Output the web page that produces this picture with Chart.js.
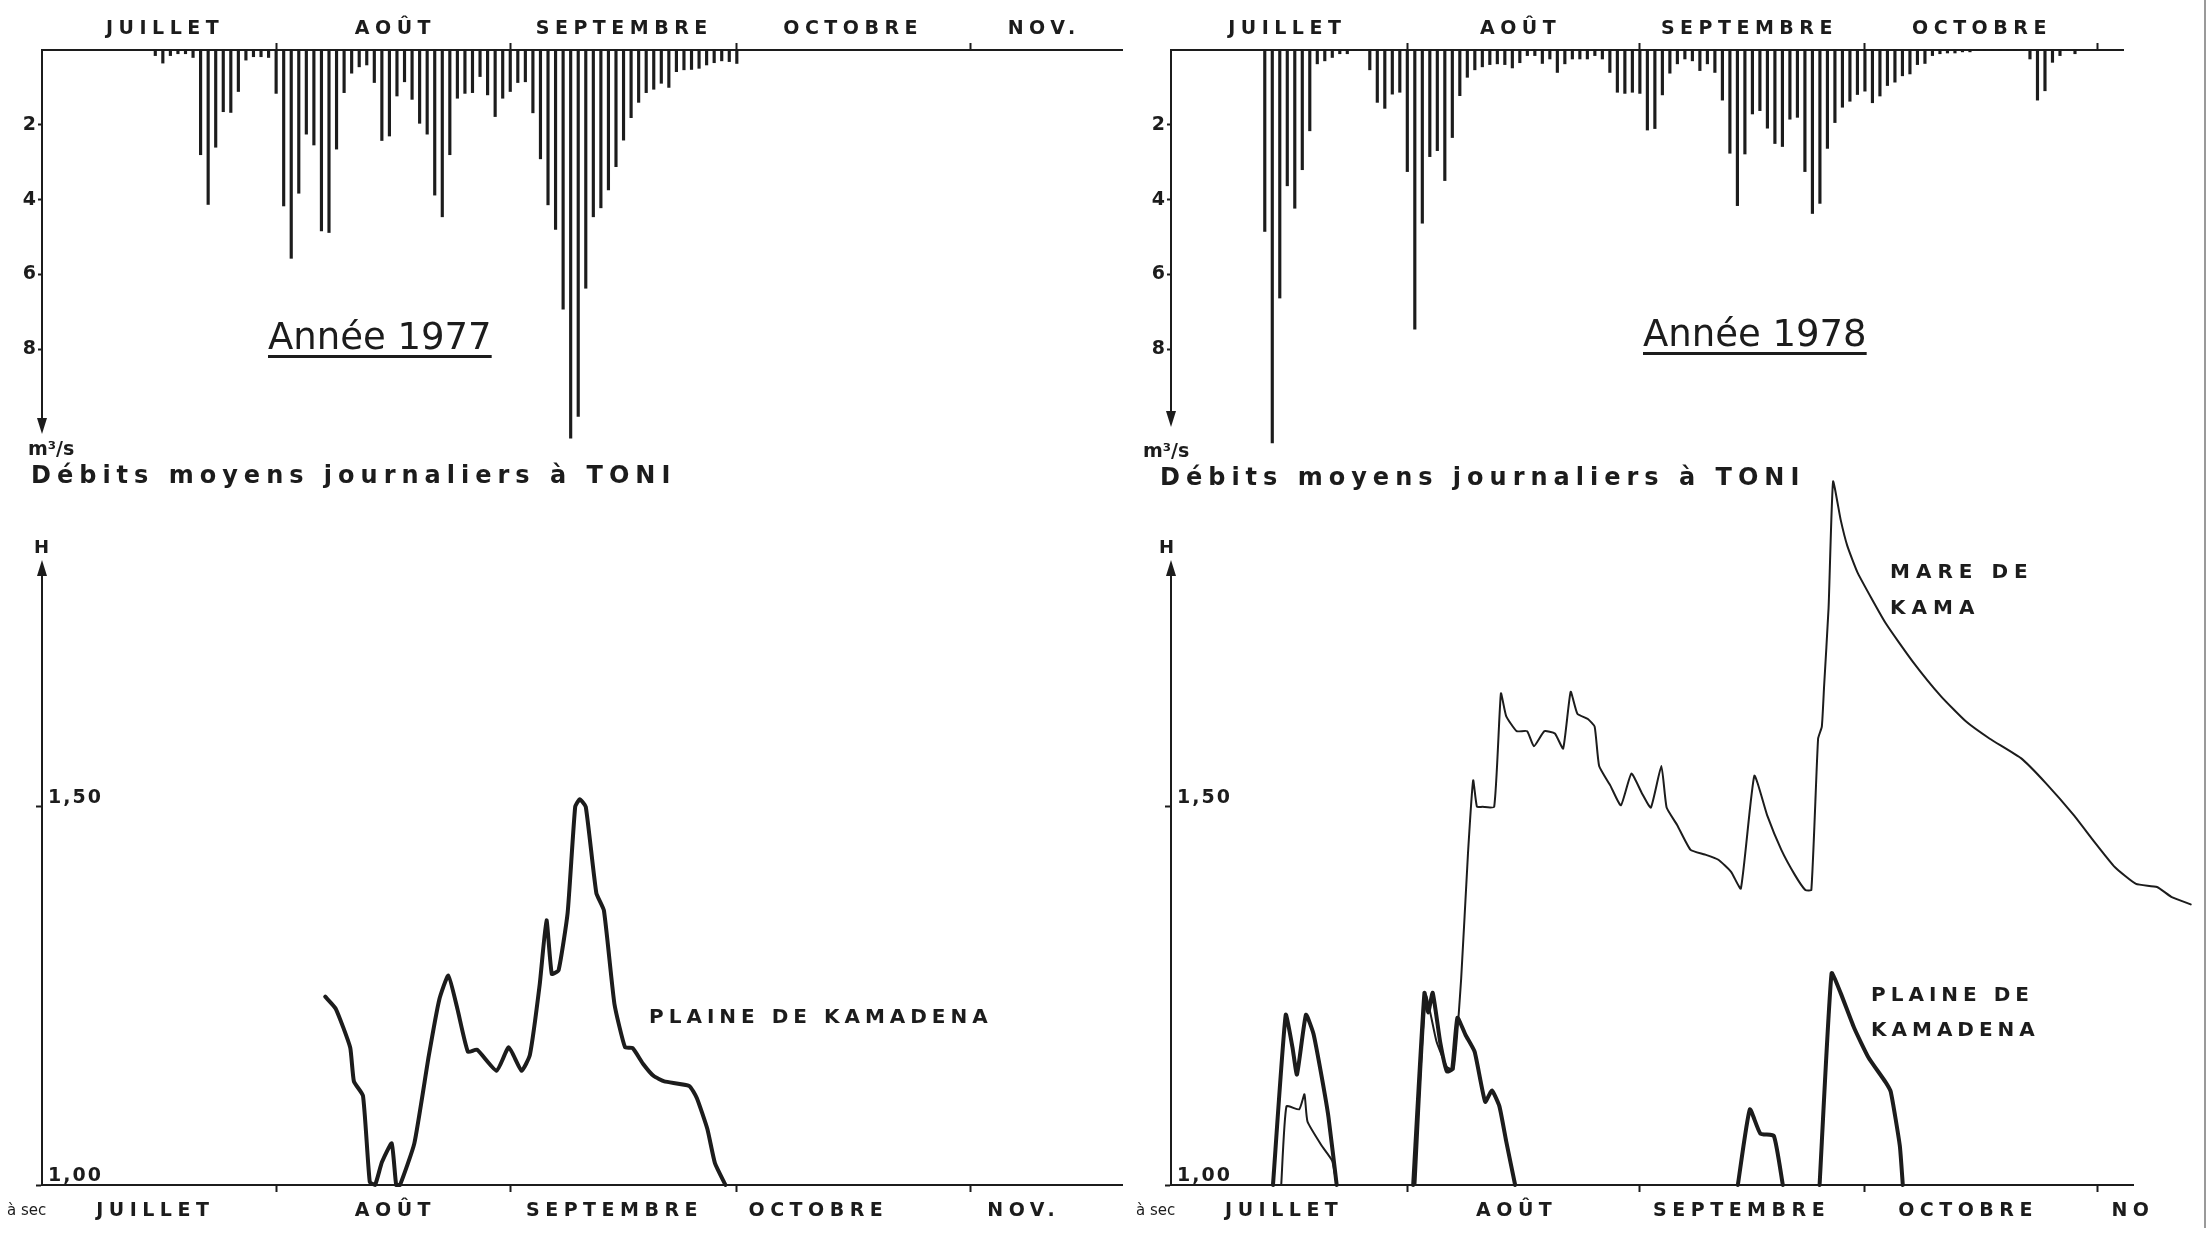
<!DOCTYPE html>
<html>
<head>
<meta charset="utf-8">
<script src="https://cdn.jsdelivr.net/npm/chart.js@4.4.1/dist/chart.umd.min.js"></script>
<style>
  html, body { margin: 0; background: #fff; }
  body { width: 2212px; height: 1234px; position: relative; overflow: hidden;
         font-family: "DejaVu Sans", sans-serif; color: #1c1c1c; }
  canvas { position: absolute; }
  .t { position: absolute; white-space: nowrap; line-height: 1; }
  .title { font-size: 37px; text-decoration: underline; text-decoration-thickness: 3px; text-underline-offset: 6px; }
  .sub { font-size: 24px; font-weight: bold; letter-spacing: 6px; }
  .unit { font-size: 19px; font-weight: bold; }
  .lab { font-size: 20px; font-weight: bold; letter-spacing: 5px; }
  .edge { position: absolute; left: 2204px; top: 0; width: 2px; height: 1228px; background: #999; }
</style>
</head>
<body>
<canvas id="q77" width="1140" height="470" style="left:0;top:0"></canvas>
<canvas id="q78" width="1092" height="470" style="left:1120px;top:0"></canvas>
<canvas id="h77" width="1140" height="774" style="left:0;top:460px"></canvas>
<canvas id="h78" width="1092" height="774" style="left:1120px;top:460px"></canvas>

<div class="t title" style="left:268px;top:318px">Année 1977</div>
<div class="t title" style="left:1643px;top:315px">Année 1978</div>
<div class="t unit" style="left:28px;top:439px">m³/s</div>
<div class="t unit" style="left:1143px;top:441px">m³/s</div>
<div class="t sub" style="left:31px;top:463px">Débits moyens journaliers à TONI</div>
<div class="t sub" style="left:1160px;top:465px">Débits moyens journaliers à TONI</div>
<div class="t" style="left:34px;top:538px;font-size:18px;font-weight:bold">H</div>
<div class="t" style="left:1159px;top:538px;font-size:18px;font-weight:bold">H</div>
<div class="t lab" style="left:649px;top:1006px">PLAINE DE KAMADENA</div>
<div class="t lab" style="left:1890px;top:553px;line-height:36px;letter-spacing:6px">MARE DE<br>KAMA</div>
<div class="t lab" style="left:1871px;top:977px;line-height:35px">PLAINE DE<br>KAMADENA</div>
<div class="t" style="left:7px;top:1203px;font-size:15px">à sec</div>
<div class="t" style="left:1136px;top:1203px;font-size:15px">à sec</div>
<div class="edge"></div>

<script>
// jours comptés depuis le 1er juillet
const monthStarts = [31, 62, 92, 123];
const monthNames = ['JUILLET', 'AOÛT', 'SEPTEMBRE', 'OCTOBRE', 'NOV.'];
const monthNames78b = ['JUILLET', 'AOÛT', 'SEPTEMBRE', 'OCTOBRE', 'NO'];
const flowTicks = [2, 4, 6, 8];
const levelTicks = [1.0, 1.5];

// débits moyens journaliers à TONI (m3/s)
const flowStart1977 = 15;
const flow1977 = [0.15, 0.35, 0.15, 0.1, 0.1, 0.2,
  2.8, 4.13, 2.6, 1.65, 1.67, 1.11,
  0.27, 0.18, 0.18, 0.2,
  1.16, 4.17, 5.57, 3.83, 2.25, 2.54, 4.84, 4.88, 2.65, 1.14,
  0.62, 0.45, 0.4, 0.87, 2.42, 2.3, 1.23, 0.85, 1.32, 1.96,
  2.25, 3.88, 4.46, 2.8, 1.29, 1.16, 1.14, 0.71, 1.2, 1.78,
  1.29, 1.11, 0.87, 0.85, 1.68, 2.91, 4.14, 4.8, 6.93, 10.38,
  9.8, 6.37, 4.46, 4.22, 3.74, 3.12, 2.41, 1.81, 1.4, 1.14,
  1.05, 0.89, 1.0, 0.58, 0.53, 0.52, 0.49, 0.4, 0.34, 0.29,
  0.31, 0.36];

const flowStart1978 = 12;
const flow1978 = [4.85, 10.5, 6.63, 3.63, 4.23, 3.2, 2.16,
  0.37, 0.29, 0.2, 0.1, 0.1, 0, 0,
  0.53, 1.4, 1.56, 1.18, 1.13,
  3.25, 7.46, 4.63, 2.85, 2.69, 3.49, 2.34, 1.22, 0.73, 0.53,
  0.45, 0.39, 0.37, 0.39, 0.48, 0.34, 0.15, 0.15, 0.36, 0.24,
  0.6, 0.37, 0.24, 0.24, 0.24, 0.15, 0.24, 0.6, 1.13, 1.16,
  1.13, 1.16, 2.14, 2.1, 1.2, 0.62, 0.37, 0.24, 0.29, 0.55,
  0.37, 0.6, 1.34, 2.76, 4.16, 2.78, 1.71, 1.62, 2.09, 2.5,
  2.58, 1.85, 1.8, 3.25, 4.37, 4.1, 2.63, 1.94, 1.53, 1.37,
  1.19, 1.1, 1.41, 1.23, 0.95, 0.86, 0.69, 0.64, 0.39, 0.36,
  0.15, 0.1, 0.08, 0.08, 0.05, 0.05, 0, 0, 0, 0,
  0, 0, 0, 0.24, 1.34, 1.09, 0.33, 0.15, 0, 0.1];

// hauteurs d'eau H (m)
const kamadena77Days = [37.5, 38.9, 40.8, 41.3, 42.5, 43.4, 44.1, 45.0, 46.3, 46.9,
  47.4, 49.3, 51.2, 52.6, 53.8, 55.0, 56.4, 57.6, 60.2, 61.8,
  63.5, 64.6, 65.9, 66.8, 67.5, 68.4, 69.6, 70.6, 71.2, 72.0,
  73.4, 74.4, 75.8, 77.2, 78.2, 79.6, 81.0, 82.4, 85.7, 86.7,
  88.1, 89.1, 90.5];
const kamadena77H = [1.249, 1.233, 1.182, 1.137, 1.118, 1.004, 1.0, 1.03, 1.055, 1.0,
  1.0, 1.055, 1.17, 1.245, 1.277, 1.233, 1.176, 1.179, 1.151, 1.182,
  1.151, 1.172, 1.265, 1.35, 1.279, 1.284, 1.36, 1.5, 1.51, 1.5,
  1.386, 1.363, 1.239, 1.182, 1.181, 1.16, 1.144, 1.137, 1.131, 1.115,
  1.074, 1.029, 1.0];

const kama78Days = [14.2, 14.9, 16.6, 17.3, 17.7, 19.6, 21.0, 21.6, 27,
  32.1, 33.5, 34.9, 36.3, 37.2, 38.2, 39.1, 39.8, 40.3, 41.0,
  42.6, 43.5, 44.2, 45.6, 47.0, 47.9, 49.3, 50.7, 51.8, 52.8,
  53.7, 55.1, 56.0, 56.6, 58.1, 59.5, 60.9, 62.3, 63.5, 64.9,
  65.6, 67.0, 68.8, 70.7, 72.5, 74.2, 75.5, 77.3, 79.0, 80.9,
  82.7, 84.1, 84.9, 85.8, 86.3, 86.6, 87.2, 87.8, 88.8, 89.7,
  91.1, 94.8, 98.5, 102.2, 105.5, 108.7, 112.9, 116.2, 119.9, 122.7,
  125.4, 128.2, 131.0, 132.9, 135.5];
const kama78H = [1.0, 1.104, 1.10, 1.12, 1.084, 1.052, 1.032, 1.0, null,
  1.0, 1.25, 1.19, 1.156, 1.153, 1.273, 1.437, 1.535, 1.50, 1.50,
  1.50, 1.65, 1.62, 1.60, 1.60, 1.58, 1.60, 1.597, 1.577, 1.652,
  1.623, 1.616, 1.606, 1.554, 1.528, 1.502, 1.544, 1.518, 1.499, 1.554,
  1.499, 1.476, 1.443, 1.437, 1.43, 1.414, 1.392, 1.541, 1.489, 1.443,
  1.41, 1.39, 1.39, 1.59, 1.606, 1.659, 1.763, 1.93, 1.88, 1.845,
  1.809, 1.743, 1.691, 1.646, 1.613, 1.59, 1.564, 1.531, 1.489, 1.453,
  1.42, 1.398, 1.394, 1.381, 1.371];

const kamadena78Days = [13.1, 14.8, 15.7, 16.3, 17.5, 18.5, 19.6, 20.5, 21.6, 26,
  31.8, 33.3, 33.8, 34.4, 35.4, 36.3, 37.0, 37.7, 38.8, 40.0, 41.4, 42.3, 43.3, 44.2, 45.4, 60,
  75.1, 76.7, 78.1, 79.9, 81.1, 83,
  86.0, 87.6, 88.8, 90.6, 92.5, 94.8, 95.5, 96.7, 97.1];
const kamadena78H = [1.0, 1.225, 1.182, 1.146, 1.225, 1.20, 1.143, 1.09, 1.0, null,
  1.0, 1.254, 1.228, 1.254, 1.189, 1.15, 1.153, 1.221, 1.198, 1.176, 1.11, 1.125, 1.104, 1.058, 1.0, null,
  1.0, 1.10, 1.068, 1.065, 1.0, null,
  1.0, 1.28, 1.254, 1.208, 1.169, 1.136, 1.123, 1.052, 1.0];

const ink = '#1c1c1c';
Chart.defaults.font.family = '"DejaVu Sans", sans-serif';
Chart.defaults.color = ink;

const pairs = (xs, ys) => xs.map((x, i) => ({ x: x, y: ys[i] }));
const daily = (start, vals) => vals.map((v, i) => ({ x: start + i, y: v }));

// fleche au bout de l'axe vertical
const axisArrow = {
  id: 'axisArrow',
  afterDraw(chart, args, opts) {
    const { ctx, chartArea: a } = chart;
    const up = opts.dir === 'up';
    const y = up ? a.top : a.bottom;
    ctx.save();
    ctx.fillStyle = ink;
    ctx.beginPath();
    ctx.moveTo(a.left, up ? y - 4 : y + 4);
    ctx.lineTo(a.left - 5, up ? y + 12 : y - 12);
    ctx.lineTo(a.left + 5, up ? y + 12 : y - 12);
    ctx.closePath();
    ctx.fill();
    ctx.restore();
  }
};

// lettrage espacé pour les mois, serré pour les graduations (dessinées après les données)
const spaced = {
  id: 'spaced',
  beforeLayout(chart) { chart.ctx.letterSpacing = '5.5px'; },
  beforeDraw(chart) { chart.ctx.letterSpacing = '5.5px'; },
  afterDatasetsDraw(chart) { chart.ctx.letterSpacing = '2px'; }
};

// bornes posées après le calcul des limites : la courbe peut déborder de l'axe
const setRange = (min, max) => s => { s.min = min; s.max = max; };

function monthAxes(pos, min, max, labelDays, labels) {
  return {
    xb: {
      type: 'linear', position: pos, weight: 0, offset: false, bounds: 'data',
      afterDataLimits: setRange(min, max),
      afterBuildTicks: s => { s.ticks = monthStarts.map(v => ({ value: v })); },
      afterFit: s => { s.height = 8; },
      ticks: { display: false },
      grid: { drawOnChartArea: false, drawTicks: true, tickLength: 7, tickWidth: 2, color: ink, offset: false },
      border: { display: true, color: ink, width: 2 }
    },
    xm: {
      type: 'linear', position: pos, weight: 1, offset: false, bounds: 'data',
      afterDataLimits: setRange(min, max),
      afterBuildTicks: s => { s.ticks = labelDays.map(v => ({ value: v })); },
      afterFit: s => { s.height = pos === 'top' ? 42 : 41; },
      ticks: { autoSkip: false, maxRotation: 0, padding: pos === 'top' ? 2 : 7,
               font: { size: 19, weight: 'bold' }, color: ink,
               callback: (v, i) => labels[i] },
      grid: { display: false, drawTicks: false },
      border: { display: false }
    }
  };
}

function flowChart(id, start, vals, xmin, xmax, ymax, yWidth, pad, labelDays, labels) {
  const scales = monthAxes('top', xmin, xmax, labelDays, labels);
  scales.y = {
    type: 'linear', reverse: true, min: 0, max: ymax, bounds: 'data',
    afterBuildTicks: s => { s.ticks = flowTicks.map(v => ({ value: v })); },
    afterFit: s => { s.width = yWidth; },
    ticks: { padding: 0, font: { size: 19, weight: 'bold' }, color: ink, z: 1 },
    grid: { drawOnChartArea: false, tickLength: 4, tickWidth: 2, color: ink },
    border: { color: ink, width: 2 }
  };
  return new Chart(document.getElementById(id), {
    type: 'bar',
    data: { datasets: [{
      data: daily(start, vals), xAxisID: 'xb', yAxisID: 'y',
      backgroundColor: ink, barThickness: 2.5, clip: false
    }] },
    options: {
      responsive: false, animation: false, devicePixelRatio: 1, events: [],
      layout: { padding: pad },
      plugins: { legend: { display: false }, tooltip: { enabled: false }, axisArrow: { dir: 'down' } },
      scales: scales
    },
    plugins: [axisArrow, spaced]
  });
}

function levelChart(id, series, xmin, xmax, yWidth, pad, labelDays, labels) {
  const scales = monthAxes('bottom', xmin, xmax, labelDays, labels);
  scales.y = {
    type: 'linear', min: 1.0, max: 1.821, bounds: 'data',
    afterBuildTicks: s => { s.ticks = levelTicks.map(v => ({ value: v })); },
    afterFit: s => { s.width = yWidth; },
    ticks: { mirror: true, padding: 6, labelOffset: -9, font: { size: 19, weight: 'bold' }, color: ink, z: 1,
             callback: v => v.toFixed(2).replace('.', ',') },
    grid: { drawOnChartArea: false, tickLength: 6, tickWidth: 2, color: ink },
    border: { color: ink, width: 2 }
  };
  return new Chart(document.getElementById(id), {
    type: 'line',
    data: { datasets: series.map(s => ({
      data: s.data, xAxisID: 'xb', yAxisID: 'y', borderColor: ink, borderWidth: s.width,
      pointRadius: 0, tension: 0.15, spanGaps: false, clip: false,
      borderJoinStyle: 'round', borderCapStyle: 'round'
    })) },
    options: {
      responsive: false, animation: false, devicePixelRatio: 1, events: [],
      layout: { padding: pad },
      plugins: { legend: { display: false }, tooltip: { enabled: false }, axisArrow: { dir: 'up' } },
      scales: scales
    },
    plugins: [axisArrow, spaced]
  });
}

flowChart('q77', flowStart1977, flow1977, 0, 143, 10.16, 42,
  { left: 0, top: 0, right: 18, bottom: 40 },
  [16.3, 46.8, 77.1, 107.4, 132.7], monthNames);

flowChart('q78', flowStart1978, flow1978, -0.5, 126.4, 9.97, 51,
  { left: 0, top: 0, right: 89, bottom: 47 },
  [15.0, 46.1, 76.6, 107.6], monthNames.slice(0, 4));

levelChart('h77', [{ data: pairs(kamadena77Days, kamadena77H), width: 4 }], 0, 143, 42,
  { left: 0, top: 104, right: 18, bottom: 0 },
  [15, 46.8, 75.8, 102.8, 130], monthNames);

levelChart('h78', [
    { data: pairs(kama78Days, kama78H), width: 2 },
    { data: pairs(kamadena78Days, kamadena78H), width: 4 }
  ], -0.5, 127.8, 51,
  { left: 0, top: 104, right: 79, bottom: 0 },
  [14.6, 45.6, 75.6, 105.8, 127.8], monthNames78b);
</script>
</body>
</html>
